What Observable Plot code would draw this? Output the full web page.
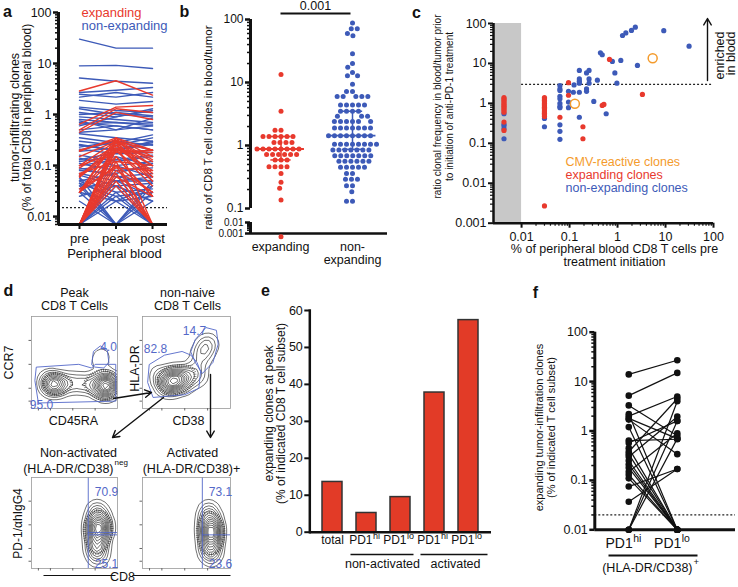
<!DOCTYPE html>
<html><head><meta charset="utf-8">
<script src="https://cdn.jsdelivr.net/npm/d3@7"></script>
<script src="https://cdn.jsdelivr.net/npm/@observablehq/plot@0.6"></script>
<style>
body{margin:0;background:#fff;}
#fig{position:relative;width:738px;height:587px;overflow:hidden;background:#fff;}
#fig svg{position:absolute;left:0;top:0;overflow:visible;}
</style></head><body><div id="fig"></div>
<script>
// ================= DATA =================
// panel a: clone frequency (% of CD8 in blood) at pre / peak / post ; 0 = not detected
const aCats = ["pre", "peak", "post"];
const aNonExp = [
[30,20,20],[9,9.2,8],[5.2,4.5,4.1],[2.7,3.0,3.4],[2.5,2.2,2.7],[2.2,2.7,2.2],[1.9,1.6,1.8],
[1.4,1.2,1.1],[1.3,1.0,0.9],[1.1,0.9,1.2],[0.9,0.8,0.7],[0.8,0.7,0.6],[0.75,0.5,0.85],[0.6,0.9,1.3],
[0.5,0.6,0.5],[0.42,0.35,0.3],[0.35,0.28,0.4],[0.3,0.25,0.35],[0.26,0.2,0.26],[0.23,0.3,0.2],
[0.21,0.17,0.18],[0.19,0.22,0.28],[0.16,0.12,0.15],[0.14,0.1,0.12],[0.12,0.15,0.1],[0.11,0.08,0.09],
[0.09,0.06,0.07],[0.085,0.1,0.06],[0.07,0.05,0.05],[0.065,0.04,0.045],[0.055,0.03,0.035],[0.05,0.02,0.025],
[0.045,0.025,0.03],[0.04,0.04,0.02],[0.045,0,0.03],[0.03,0,0.05],[0,0.02,0.04],[0,0.03,0],[0,0.04,0.02],
[0,0.025,0],[0.02,0,0.02],[0.04,0,0],[0,0.05,0.025],[0.025,0.04,0],[0.05,0.07,0],[0.03,0.02,0],
[0,0.06,0.05],[0.06,0,0.04],[0.035,0.05,0.06],[0.2,0.3,0.25],[0.25,0.2,0.3],[0.13,0.18,0.2],
[0.1,0.13,0.16],[0.08,0.07,0.11],[1.0,1.1,0.95],[0.65,0.7,0.65],[0.45,0.5,0.6],[0.7,0.6,0.5]
];
const aExp = [
[2.9,4.6,2.4],[0.65,1.4,1.5],[0.5,1.3,1.1],[0.45,1.1,0.8],[0.19,0.35,0.15],[0.15,0.3,0.2],
[0.1,0.3,0.12],[0.09,0.25,0.1],[0.065,0.22,0.08],[0.06,0.28,0.07],[0.06,0.2,0.18],[0.03,0.35,0.06],
[0.03,0.3,0.05],[0.03,0.2,0.04],[0.03,0.15,0.025],[0.03,0.1,0.03],[0,0.3,0.1],[0,0.25,0.06],
[0,0.2,0.05],[0,0.15,0.025],[0,0.12,0],[0,0.1,0],[0,0.08,0.03],[0,0.07,0],[0,0.06,0.025],
[0,0.05,0],[0,0.3,0],[0,0.22,0.15],[0.1,0.18,0.2],[0.07,0.12,0.1],[0.035,0.09,0.08],[0,0.04,0],
[0.2,0.32,0.13],[0,0.35,0.2]
];
const aTicks = [0.01, 0.1, 1, 10, 100];
const aLimit = 0.015;

// panel b: ratio blood/tumor
const bExp = [13.4,3.5,1.75,1.75,1.39,1.39,1.39,1.39,1.39,1.39,1.12,1.12,1.12,1.12,
  0.88,0.88,0.88,0.88,0.88,0.88,0.88,0.88,0.72,0.72,0.72,0.72,0.72,0.72,0.59,0.59,0.59,
  0.46,0.46,0.46,0.46,0.36,0.26,0.21,0.137];
const bExpLow = [0.0005];
const bNon = [88,71,71,60,55,28.5,20,17.5,14.4,12.8,12.8,9.4,7.2,7.2,6,6,6,6,6,
  4.4,4.4,4.4,4.4,4.4,3.5,3.5,3.5,3.5,2.9,2.9,2.9,2.4,2.4,2.4,2.4,2.4,2.4,
  1.9,1.9,1.9,1.9,1.9,1.9,1.9,1.43,1.43,1.43,1.43,1.43,1.43,1.43,1.43,
  1.05,1.05,1.05,1.05,1.05,1.05,1.05,1.05,0.85,0.85,0.85,0.85,0.85,0.85,0.85,
  0.69,0.69,0.69,0.69,0.69,0.69,0.69,0.56,0.56,0.56,0.56,0.56,0.56,0.45,0.45,0.45,0.45,0.45,
  0.36,0.36,0.29,0.29,0.29,0.23,0.23,0.185,0.13,0.13];
const bExpStats = {median: 0.88, q1: 0.59, q3: 1.39};
const bNonStats = {median: 1.43, q1: 0.87, q3: 3.5};
const bTicksHigh = [0.1, 1, 10, 100];
const bTicksLow = [0.001, 0.01];
const bPvalue = "0.001";

// panel c: [% of blood CD8 pre, ratio blood/tumor]
const cNonExp = [[0.0043,0.55],[0.0043,0.3],[0.0043,0.27],[0.0043,0.23],[0.0043,0.13],
[0.03,0.42],[0.03,0.26],[0.063,2.8],[0.063,2.3],[0.063,2.1],[0.063,1.5],[0.063,1.3],[0.063,1.0],
[0.063,0.84],[0.063,0.78],[0.063,0.29],[0.063,0.2],[0.063,0.126],[0.095,2.0],[0.095,1.08],[0.095,0.78],
[0.124,2.9],[0.12,1.9],[0.16,6.7],[0.16,4.1],[0.16,3.6],[0.16,3.2],[0.16,1.9],[0.16,0.45],
[0.226,5.8],[0.226,2.3],[0.226,2.0],[0.255,6.7],[0.255,4.1],[0.255,3.2],[0.32,1.12],[0.38,3.8],
[0.58,0.55],[0.44,18.5],[0.48,16.5],[0.78,11.2],[1.17,11.9],[0.88,5.8],[0.97,3.2],[2.6,8.9],
[1.27,50],[1.49,58],[1.95,67],[2.35,81],[9.2,66],[31,27]];
const cExp = [[0.0043,1.4],[0.0043,1.3],[0.0043,1.2],[0.0043,1.1],[0.0043,1.0],[0.0043,0.92],
[0.0043,0.85],[0.0043,0.78],[0.0043,0.72],[0.0043,0.66],[0.0043,0.6],[0.0043,0.34],[0.0043,0.21],
[0.03,1.4],[0.03,1.3],[0.03,1.2],[0.03,1.1],[0.03,1.0],[0.03,0.93],[0.03,0.86],[0.03,0.8],[0.03,0.74],
[0.03,0.68],[0.03,0.62],[0.03,0.57],[0.03,0.52],[0.03,0.47],[0.03,0.0027],
[0.063,0.45],[0.095,3.3],[0.095,1.6],[0.19,0.26],[0.19,0.13],[0.48,0.89],[0.52,0.94],[0.68,12.6],[3.3,1.68]];
const cCMV = [[0.129,0.98],[5.4,13.5]];
const cXTicks = [0.01, 0.1, 1, 10, 100];
const cYTicks = [0.001, 0.01, 0.1, 1, 10, 100];
const cLimit = 3;
const cNotDetected = [0.0026, 0.01];
const cLegend = ["CMV-reactive clones", "expanding clones", "non-expanding clones"];

// panel d: flow cytometry densities [x, y, weight] (axis units 0-100) and gates
const dTL = [[18,28,2],[24,27,4],[30,26,3],[36,27,2],[44,28,1.5],[52,28,1.5],[60,27,1.5],[68,26,1.5],
 [76,26,2],[82,25,3],[87,24,5],[91,25,4],[89,32,2],[22,33,1],[26,21,1.5],[86,18,2],[80,55,1.2],[78,48,0.6],[84,60,0.5]];
const dTR = [[22,30,2],[30,30,4],[36,29,4],[42,32,3],[28,22,2],[38,38,2],[50,36,2],[58,40,1.5],[64,50,1.5],
 [68,60,2],[72,68,2],[76,72,1.2],[66,34,1.2],[56,30,1],[18,40,1],[45,22,1.5]];
const dBL = [[76,65,1.5],[78,58,2],[78,50,2.5],[78,42,3],[77,34,3],[76,26,2.5],[76,18,2],[78,10,1],[82,45,1.5],[73,45,1.5]];
const dBR = [[75,66,1.2],[76,58,2],[77,50,2.5],[78,42,3],[78,34,3],[77,26,2.5],[77,18,2],[78,12,1],[81,40,1.2],[73,40,1.2]];
const gTL = [
 {g:"naive", pts:[[6,45],[55,48],[70,44],[74,48],[98,48],[98,8],[8,6],[4,30]]},
 {g:"ccr7", pts:[[70,48],[72,62],[80,68],[88,64],[90,50],[84,44],[74,45]]}];
const gTR = [
 {g:"neg", pts:[[8,48],[25,58],[45,62],[55,58],[62,50],[66,40],[64,22],[48,15],[12,12],[6,28]]},
 {g:"pos", pts:[[55,62],[60,75],[72,88],[84,85],[86,70],[80,50],[68,38],[60,50]]}];
const dQuadBL = {x: 66, y: [37, 39.5]};
const dQuadBR = {x: 68, y: [37]};
const dPercent = {tl: ["4.0","95.0"], tr: ["14.7","82.8"], bl: ["70.9","25.1"], br: ["73.1","23.6"]};

// panel e
const eKeys = ["total","naHi","naLo","aHi","aLo"];
const eMain = ["total","PD1","PD1","PD1","PD1"];
const eSup = ["","hi","lo","hi","lo"];
const eVals = [13.6, 5.2, 9.5, 37.8, 57.4];
const eTicks = [0,10,20,30,40,50,60];

// panel f
const fHi = [14,5.2,3.3,2.2,2.0,1.8,1.7,1.2,0.64,0.57,0.45,0.38,0.34,0.30,0.25,0.21,0.18,0.15,0.13,0.11,0.075,0.037,0,0,0];
const fLo = [27,15,0.8,0,5.0,0.7,0.34,0,0.68,1.6,0,4.5,0,1.95,0,0,0,0.9,0,0,0.17,0.17,1.6,0.7,4.0];
const fTicks = [0.01, 0.1, 1, 10, 100];
const fLimit = 0.02;

// ================= DRAWING =================
const W = 738, H = 587;
const FONT = '"Liberation Sans", Arial, Helvetica, sans-serif';
const RED = "#e8392d", BLUE = "#3d5ab8", ORANGE = "#f49b2c", GATE = "#5468c8", BAR = "#e23b27";
const fig = document.getElementById("fig");
function place(box, o) {
  const [x0, x1, y0, y1] = box;
  const svg = Plot.plot({
    width: W, height: H,
    marginLeft: x0, marginRight: W - x1, marginTop: y0, marginBottom: H - y1,
    style: {background: "transparent", fontFamily: FONT, fontSize: "12px", color: "#111", overflow: "visible"},
    ...o
  });
  fig.appendChild(svg);
  return svg;
}
const isDecade = t => Math.abs(Math.log10(t) - Math.round(Math.log10(t))) < 1e-6;
const logMinor = (lo, hi) => d3.scaleLog().domain([lo, hi]).ticks().filter(t => !isDecade(t) && t >= lo && t <= hi);
const fmt = d => String(d);
const blank = () => "";

// ---- a
const A_MIN = 0.007, A_LEFT = -0.575;
const toA = v => v === 0 ? A_MIN : v;
const rowsOf = (arr, g) => arr.flatMap((c, i) => c.map((v, t) => ({id: g + i, t, v: toA(v)})));
place([58, 167, 12, 224], {
  x: {domain: [A_LEFT, 2.41]},
  y: {type: "log", domain: [A_MIN, 100]},
  marks: [
    Plot.ruleY([aLimit], {strokeDasharray: "2,2", strokeWidth: 1.2, stroke: "#222"}),
    Plot.line(rowsOf(aNonExp, "n"), {x: "t", y: "v", z: "id", stroke: BLUE, strokeWidth: 1.4}),
    Plot.line(rowsOf(aExp, "e"), {x: "t", y: "v", z: "id", stroke: RED, strokeWidth: 1.4}),
    Plot.ruleX([A_LEFT], {strokeWidth: 3}),
    Plot.ruleY([A_MIN], {strokeWidth: 3}),
    Plot.axisY({ticks: aTicks, tickFormat: fmt, tickSize: 5, tickPadding: 2, strokeWidth: 2.5, label: null, fontSize: 12.5}),
    Plot.axisY({ticks: logMinor(A_MIN, 100), tickFormat: blank, tickSize: 3, strokeWidth: 1.5, label: null}),
    Plot.axisX({ticks: [0, 1, 2], tickFormat: i => aCats[i], tickSize: 5, strokeWidth: 2, label: null, fontSize: 13})
  ]
});

// ---- b axes
place([250, 387, 19, 208], {
  x: {domain: [0, 1], axis: null},
  y: {type: "log", domain: [0.1, 100]},
  marks: [
    Plot.ruleX([0], {strokeWidth: 3}),
    Plot.axisY({ticks: bTicksHigh, tickFormat: fmt, tickSize: 5, tickPadding: 2, strokeWidth: 2.5, label: null, fontSize: 12}),
    Plot.axisY({ticks: logMinor(0.1, 100), tickFormat: blank, tickSize: 3, strokeWidth: 1.5, label: null})
  ]
});
const B_LOW = [250, 387, 222, 233];
place(B_LOW, {
  x: {domain: [0, 1], axis: null},
  y: {type: "log", domain: [0.001, 0.01]},
  marks: [
    Plot.ruleX([0], {strokeWidth: 3}),
    Plot.ruleY([0.001], {strokeWidth: 2.5}),
    Plot.axisY({ticks: bTicksLow, tickFormat: fmt, tickSize: 5, tickPadding: 2, strokeWidth: 2.5, label: null, fontSize: 10}),
    Plot.axisY({ticks: logMinor(0.001, 0.01), tickFormat: blank, tickSize: 3, strokeWidth: 1.5, label: null})
  ]
});
function bStrip(box, vals, stats, color, wide, narrow) {
  place(box, {
    x: {domain: [-1, 1], axis: null},
    y: {type: "log", domain: [0.1, 100], axis: null},
    marks: [
      Plot.dot(vals, Plot.dodgeX("middle", {y: d => d, r: 2.5, fill: color, padding: 0})),
      Plot.ruleX([0], {y1: stats.q1, y2: stats.q3, stroke: color, strokeWidth: 1.5}),
      Plot.ruleY([stats.median], {x1: -wide, x2: wide, stroke: color, strokeWidth: 1.8}),
      Plot.ruleY([stats.q1, stats.q3], {x1: -narrow, x2: narrow, stroke: color, strokeWidth: 1.5})
    ]
  });
}
bStrip([245.5, 315.5, 19, 208], bExp, bExpStats, RED, 0.67, 0.29);
bStrip([317, 387, 19, 208], bNon, bNonStats, BLUE, 0.67, 0.29);
place([245.5, 315.5, B_LOW[2], B_LOW[3]], {
  x: {axis: null}, y: {type: "log", domain: [0.001, 0.01], axis: null},
  marks: [Plot.dot(bExpLow, Plot.dodgeX("middle", {y: d => d, r: 2.5, fill: RED}))]
});

// ---- c
const C_XMIN = cNotDetected[0];
place([493, 713, 23, 222.7], {
  x: {type: "log", domain: [C_XMIN, 100]},
  y: {type: "log", domain: [0.001, 100]},
  marks: [
    Plot.rect([cNotDetected], {x1: d => d[0], x2: d => d[1], y1: 0.001, y2: 100, fill: "#c8c8c8"}),
    Plot.ruleY([cLimit], {x1: cNotDetected[1], x2: 100, strokeDasharray: "2,2", strokeWidth: 1.3, stroke: "#222"}),
    Plot.dot(cNonExp, {x: d => d[0], y: d => d[1], r: 2.6, fill: BLUE}),
    Plot.dot(cExp, {x: d => d[0], y: d => d[1], r: 2.6, fill: RED}),
    Plot.dot(cCMV, {x: d => d[0], y: d => d[1], r: 4.5, stroke: ORANGE, strokeWidth: 1.5, fill: "none"}),
    Plot.ruleX([C_XMIN], {strokeWidth: 2.5}),
    Plot.ruleY([0.001], {strokeWidth: 2.5}),
    Plot.axisY({ticks: cYTicks, tickFormat: fmt, tickSize: 5, tickPadding: 2, strokeWidth: 2, label: null, fontSize: 12.5}),
    Plot.axisY({ticks: logMinor(0.001, 100), tickFormat: blank, tickSize: 3, strokeWidth: 1.2, label: null}),
    Plot.axisX({ticks: cXTicks, tickFormat: fmt, tickSize: 5, strokeWidth: 2, label: null, fontSize: 12.5}),
    Plot.axisX({ticks: logMinor(0.01, 100), tickFormat: blank, tickSize: 3, strokeWidth: 1.2, label: null})
  ]
});

// ---- d flow plots
const flowTicks = [8, 22, 48, 74];
function flow(box, pts, gates, quad) {
  const gRows = gates ? gates.flatMap(g => g.pts.map(p => ({g: g.g, x: p[0], y: p[1]}))) : [];
  place(box, {
    x: {domain: [0, 100]}, y: {domain: [0, 100]},
    marks: [
      Plot.density(pts, {x: d => d[0], y: d => d[1], weight: d => d[2], bandwidth: 9, thresholds: 2, stroke: "#777", strokeWidth: 3, strokeDasharray: "0.8,1.4", clip: true}),
      Plot.density(pts, {x: d => d[0], y: d => d[1], weight: d => d[2], bandwidth: 5, thresholds: 14, stroke: "#111", strokeWidth: 0.6, clip: true}),
      Plot.line(gRows, {x: "x", y: "y", z: "g", curve: "linear-closed", stroke: GATE, strokeWidth: 0.9}),
      quad ? Plot.ruleX([quad.x], {stroke: GATE, strokeWidth: 0.9}) : null,
      quad ? Plot.ruleY(quad.y, {x1: quad.x, x2: 100, stroke: GATE, strokeWidth: 0.9}) : null,
      Plot.frame({stroke: "#999", strokeWidth: 0.8}),
      Plot.axisX({ticks: flowTicks, tickFormat: blank, tickSize: 2.5, stroke: "#666", label: null}),
      Plot.axisY({ticks: flowTicks, tickFormat: blank, tickSize: 2.5, stroke: "#666", label: null})
    ]
  });
}
flow([31, 117, 316, 408], dTL, gTL, null);
flow([142, 230, 316, 408], dTR, gTR, null);
flow([31, 117, 477, 568], dBL, null, dQuadBL);
flow([142, 230, 477, 568], dBR, null, dQuadBR);

// ---- e
const eData = eKeys.map((k, i) => ({k, v: eVals[i], main: eMain[i], sup: eSup[i]}));
place([309.3, 491, 310, 531.7], {
  x: {type: "band", domain: eKeys, paddingInner: 0.41, paddingOuter: 0.34, axis: null},
  y: {domain: [0, 60]},
  marks: [
    Plot.barY(eData, {x: "k", y: "v", fill: BAR, stroke: "#333", strokeWidth: 1.5}),
    Plot.ruleY([0], {strokeWidth: 2.5}),
    Plot.frame({anchor: "left", strokeWidth: 2.5}),
    Plot.axisY({ticks: eTicks, tickSize: 5, tickPadding: 2, strokeWidth: 2, label: null, fontSize: 12.5}),
    Plot.text(eData.filter(d => !d.sup), {x: "k", text: "main", frameAnchor: "bottom", dy: 12, fontSize: 12}),
    Plot.text(eData.filter(d => d.sup), {x: "k", text: "main", frameAnchor: "bottom", dy: 12, dx: 6, textAnchor: "end", fontSize: 12}),
    Plot.text(eData.filter(d => d.sup), {x: "k", text: "sup", frameAnchor: "bottom", dy: 7, dx: 6.5, textAnchor: "start", fontSize: 9})
  ]
});

// ---- f
const F_MIN = 0.01, F_LEFT = -0.7;
const toF = v => v === 0 ? F_MIN : v;
const fIdx = fHi.map((_, i) => i);
const fLabels = [{x: 0, main: "PD1", sup: "hi"}, {x: 1, main: "PD1", sup: "lo"}];
place([594.3, 735, 331.7, 529.3], {
  x: {domain: [F_LEFT, 2.2], axis: null},
  y: {type: "log", domain: [F_MIN, 100]},
  marks: [
    Plot.ruleY([fLimit], {strokeDasharray: "2,2", strokeWidth: 1.2, stroke: "#222"}),
    Plot.link(fIdx, {x1: 0, x2: 1, y1: i => toF(fHi[i]), y2: i => toF(fLo[i]), stroke: "#111", strokeWidth: 1.2}),
    Plot.dot(fIdx, {x: 0, y: i => toF(fHi[i]), r: 3.3, fill: "#111"}),
    Plot.dot(fIdx, {x: 1, y: i => toF(fLo[i]), r: 3.3, fill: "#111"}),
    Plot.ruleX([F_LEFT], {strokeWidth: 3}),
    Plot.ruleY([F_MIN], {strokeWidth: 3}),
    Plot.axisY({ticks: fTicks, tickFormat: fmt, tickSize: 5, tickPadding: 2, strokeWidth: 2.5, label: null, fontSize: 12.5}),
    Plot.axisY({ticks: logMinor(F_MIN, 100), tickFormat: blank, tickSize: 3, strokeWidth: 1.5, label: null}),
    Plot.text(fLabels, {x: "x", text: "main", frameAnchor: "bottom", dy: 18, dx: 4, textAnchor: "end", fontSize: 14}),
    Plot.text(fLabels, {x: "x", text: "sup", frameAnchor: "bottom", dy: 12, dx: 4.5, textAnchor: "start", fontSize: 10.5})
  ]
});

// ---- annotations (titles, labels)
const ann = [];
const T = (x, y, t, o = {}) => ann.push({x, y, t, fs: o.fs || 12, r: o.r || 0, c: o.c || "#111", a: o.a || "middle", w: o.w || "normal"});
// panel letters
[["a",7,11],["b",184,11],["c",416,12],["d",8,290],["e",265,290],["f",535,292]].forEach(([t,x,y]) => T(x, y, t, {fs: 16, w: "bold"}));
// a
T(14, 117, "tumor-infiltrating clones", {r: -90, fs: 12.5});
T(27, 117, "(% of total CD8 in peripheral blood)", {r: -90, fs: 12});
T(81, 12, "expanding", {c: RED, a: "start", fs: 13});
T(81, 25, "non-expanding", {c: BLUE, a: "start", fs: 13});
T(114, 253, "Peripheral blood", {fs: 13});
// b
T(208, 127, "ratio of CD8 T cell clones in blood/tumor", {r: -90, fs: 11.5});
T(315, 5, bPvalue, {fs: 12.5});
T(280, 246, "expanding", {fs: 12.5});
T(352, 246, "non-", {fs: 12.5});
T(352, 259, "expanding", {fs: 12.5});
// c
T(437, 106, "ratio clonal frequency in blood/tumor prior", {r: -90, fs: 10});
T(449, 106, "to initiation of anti-PD-1 treatment", {r: -90, fs: 10});
T(614, 248, "% of peripheral blood CD8 T cells pre", {fs: 12.5});
T(614, 261, "treatment initiation", {fs: 12.5});
T(565, 161, cLegend[0], {c: ORANGE, a: "start", fs: 12.5});
T(565, 174, cLegend[1], {c: RED, a: "start", fs: 12.5});
T(565, 187, cLegend[2], {c: BLUE, a: "start", fs: 12.5});
T(719, 31, "enriched", {r: -90, a: "end", fs: 12.5});
T(730, 31, "in blodd", {r: -90, a: "end", fs: 12.5});
// d
T(74, 292, "Peak", {fs: 12.5}); T(74, 305, "CD8 T Cells", {fs: 12.5});
T(187, 292, "non-naive", {fs: 12.5}); T(187, 305, "CD8 T Cells", {fs: 12.5});
T(8, 362, "CCR7", {r: -90, fs: 12.5});
T(73, 420, "CD45RA", {fs: 12.5});
T(134, 368, "HLA-DR", {r: -90, fs: 12.5});
T(188, 420, "CD38", {fs: 12.5});
T(78, 452, "Non-activated", {fs: 12.5});
T(113, 468, "(HLA-DR/CD38)", {a: "end", fs: 12.5});
T(114, 462, "neg", {a: "start", fs: 8});
T(192, 452, "Activated", {fs: 12.5});
T(191, 468, "(HLA-DR/CD38)+", {fs: 12.5});
T(18, 523, "PD-1/αhIgG4", {r: -90, fs: 12});
T(122, 576, "CD8", {fs: 12.5});
T(108, 347, dPercent.tl[0], {c: GATE, fs: 12}); T(41, 405, dPercent.tl[1], {c: GATE, fs: 12});
T(194, 331, dPercent.tr[0], {c: GATE, fs: 12}); T(155, 349, dPercent.tr[1], {c: GATE, fs: 12});
T(106, 492, dPercent.bl[0], {c: GATE, fs: 12}); T(106, 564, dPercent.bl[1], {c: GATE, fs: 12});
T(220, 492, dPercent.br[0], {c: GATE, fs: 12}); T(220, 564, dPercent.br[1], {c: GATE, fs: 12});
// e
T(269, 413, "expanding clones at peak", {r: -90, fs: 12});
T(281, 413, "(% of indicated CD8 T cell subset)", {r: -90, fs: 12});
T(382, 563, "non-activated", {fs: 12.5});
T(455, 563, "activated", {fs: 12.5});
// f
T(539, 427, "expanding tumor-infiltration clones", {r: -90, fs: 11});
T(551, 427, "(% of indicated T cell subset)", {r: -90, fs: 11});
T(692, 567, "(HLA-DR/CD38)", {a: "end", fs: 12.5});
T(693, 561, "+", {a: "start", fs: 9.5});

const annLines = [
  [280, 13, 350, 13, 1.8],            // b significance bar
  [43, 575, 115, 575, 1], [132, 575, 230, 575, 1], // d CD8 axis
  [350, 554, 413, 554, 1.5], [420, 554, 487, 554, 1.5], // e groups
  [608, 555, 697, 555, 2]             // f group
];
const annArrows = [
  [113, 398, 151, 392], [163, 397, 112, 437], [210, 374, 210, 437], // d
  [707, 80, 707, 18]                  // c enriched in blood
];
const groups = d3.groups(ann, d => d.a + "|" + d.w);
place([0, W, 0, H], {
  x: {domain: [0, W], range: [0, W], axis: null},
  y: {domain: [0, H], range: [0, H], axis: null},
  color: {type: "identity"},
  marks: [
    Plot.link(annLines, {x1: d => d[0], y1: d => d[1], x2: d => d[2], y2: d => d[3], strokeWidth: d => d[4], stroke: "#111"}),
    Plot.arrow(annArrows, {x1: d => d[0], y1: d => d[1], x2: d => d[2], y2: d => d[3], stroke: "#111", strokeWidth: 1.4, headLength: 8}),
    ...groups.map(([k, arr]) => {
      const [a, w] = k.split("|");
      return Plot.text(arr, {x: "x", y: "y", text: "t", fontSize: d => d.fs, rotate: d => d.r, fill: d => d.c, textAnchor: a, fontWeight: w});
    })
  ]
});
</script>
</body></html>
